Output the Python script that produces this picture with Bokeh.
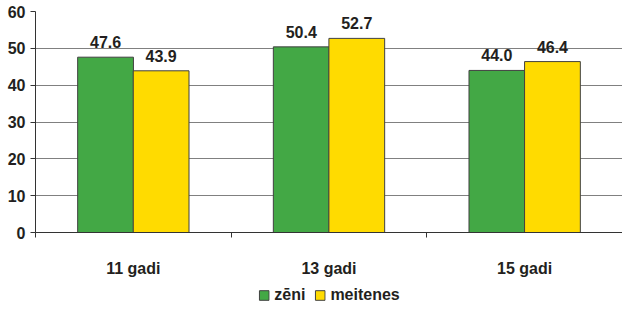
from bokeh.plotting import figure
from bokeh.layouts import column
from bokeh.models import (Range1d, LinearAxis, FixedTicker,
                          Legend, LegendItem, ColumnDataSource)
from bokeh.core.properties import value
from bokeh.embed import file_html
from bokeh.resources import INLINE

categories = ["11 gadi", "13 gadi", "15 gadi"]
zeni = [47.6, 50.4, 44.0]
meitenes = [43.9, 52.7, 46.4]
series_names = ["zēni", "meitenes"]
y_ticks = [0, 10, 20, 30, 40, 50, 60]

FONT = "Liberation Sans"
TXT = "#231f20"
GREEN = "#43a845"
YELLOW = "#ffdb00"

n = len(categories)
W = 0.285
off = 0.142
centers = [i + 0.5 for i in range(n)]

src = ColumnDataSource(dict(
    xz=[c - off for c in centers],
    xm=[c + off for c in centers],
    zeni=zeni,
    meitenes=meitenes,
    zeni_lbl=["%.1f" % v for v in zeni],
    meitenes_lbl=["%.1f" % v for v in meitenes],
))

p = figure(x_range=Range1d(0, n), y_range=Range1d(0, 60),
           frame_width=587, frame_height=221, output_backend="svg", toolbar_location=None,
           x_axis_location=None, min_border_left=35, min_border_right=0,
           min_border_top=11, min_border_bottom=55)
p.outline_line_color = None
p.xgrid.grid_line_color = None
p.ygrid.grid_line_color = "#808080"
p.ygrid.grid_line_width = 1

yax = p.yaxis[0]
yax.ticker = FixedTicker(ticks=y_ticks)
yax.axis_line_color = "#333333"
yax.major_tick_line_color = "#333333"
yax.major_tick_out = 5
yax.major_tick_in = 0
yax.minor_tick_line_color = None
yax.major_label_standoff = 5
yax.major_label_text_font = FONT
yax.major_label_text_font_style = "bold"
yax.major_label_text_font_size = "16px"
yax.major_label_text_color = TXT

tick_axis = LinearAxis(ticker=FixedTicker(ticks=list(range(n + 1))),
                       major_label_overrides={i: "" for i in range(n + 1)},
                       major_label_text_font_size="1px", major_label_standoff=0,
                       major_tick_out=5, major_tick_in=0, minor_tick_line_color=None,
                       axis_line_color="#333333", major_tick_line_color="#333333")
cat_axis = LinearAxis(ticker=FixedTicker(ticks=centers),
                      major_label_overrides={c: lab for c, lab in zip(centers, categories)},
                      axis_line_color=None, major_tick_line_color=None,
                      minor_tick_line_color=None,
                      major_tick_out=0, major_tick_in=0, major_label_standoff=22,
                      major_label_text_font=FONT, major_label_text_font_style="bold",
                      major_label_text_font_size="16px", major_label_text_color=TXT)
p.add_layout(tick_axis, "below")
p.add_layout(cat_axis, "below")

p.vbar(x="xz", top="zeni", width=W, source=src,
       fill_color=GREEN, line_color="#404040", line_width=1)
p.vbar(x="xm", top="meitenes", width=W, source=src,
       fill_color=YELLOW, line_color="#404040", line_width=1)

for key, xk in (("zeni", "xz"), ("meitenes", "xm")):
    p.text(x=xk, y=key, text=key + "_lbl", source=src,
           text_align="center", text_baseline="bottom", y_offset=-9,
           text_font=value(FONT), text_font_style="bold", text_font_size="16px",
           text_color=TXT)

# separate strip holding the legend (its bars lie outside its visible range)
lf = figure(x_range=Range1d(0, n), y_range=Range1d(100, 101),
            frame_width=587, height=16, output_backend="svg", toolbar_location=None,
            x_axis_location=None, y_axis_location=None,
            min_border_left=35, min_border_right=0, min_border_top=0, min_border_bottom=0)
lf.outline_line_color = None
lf.xgrid.grid_line_color = None
lf.ygrid.grid_line_color = None
l1 = lf.vbar(x="xz", top="zeni", width=W, source=src,
             fill_color=GREEN, line_color="#404040", line_width=1)
l2 = lf.vbar(x="xm", top="meitenes", width=W, source=src,
             fill_color=YELLOW, line_color="#404040", line_width=1)

legend = Legend(items=[LegendItem(label=series_names[0], renderers=[l1]),
                       LegendItem(label=series_names[1], renderers=[l2])],
                orientation="horizontal", location="center",
                glyph_width=12, glyph_height=12, label_standoff=5, spacing=8,
                padding=0, margin=0, label_height=16,
                border_line_color=None, background_fill_alpha=0,
                label_text_font=FONT, label_text_font_style="bold",
                label_text_font_size="16px", label_text_color=TXT)
lf.add_layout(legend, "center")

open("out.html", "w").write(file_html(column(p, lf, spacing=0), INLINE))
